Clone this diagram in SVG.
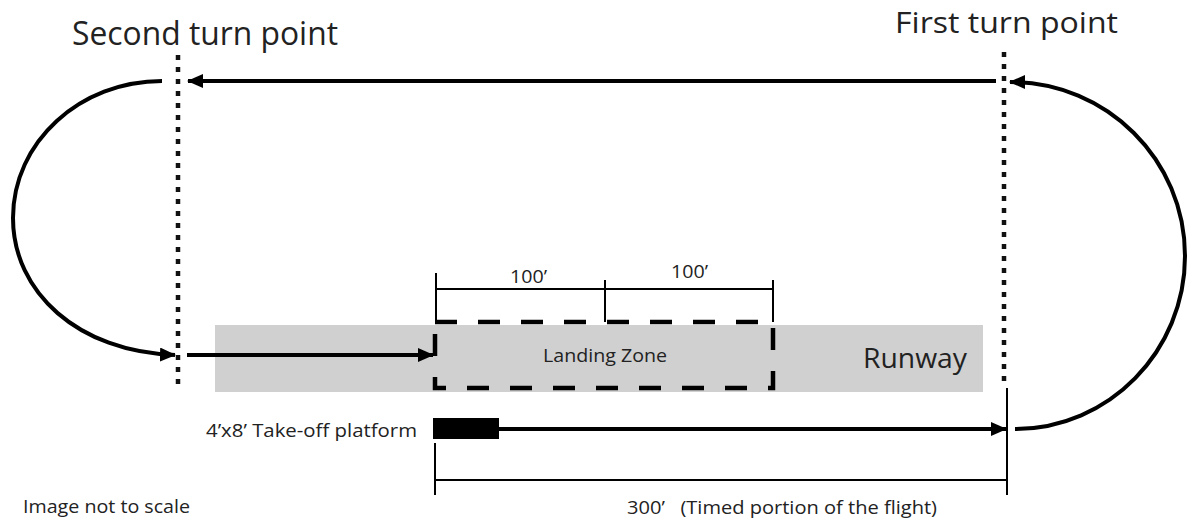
<svg xmlns="http://www.w3.org/2000/svg" width="1190" height="519" viewBox="0 0 1190 519">
<style>
.t{font-family:"Open Sans","Noto Sans",sans-serif;fill:#222}
.ln{stroke:#000;stroke-width:4;fill:none}
.thin{stroke:#000;stroke-width:2;fill:none}
.dot{stroke:#111;stroke-width:4.5;stroke-dasharray:5 7;fill:none}
</style>
<defs>
<marker id="ah" markerWidth="16" markerHeight="14" refX="15" refY="7" orient="auto" markerUnits="userSpaceOnUse">
<path d="M0,0 L16,7 L0,14 Z" fill="#000"/>
</marker>
</defs>
<rect width="1190" height="519" fill="#fff"/>
<g id="runway">
<rect x="215" y="325" width="768" height="67" fill="#d0d0d0"/>
<text class="t" x="863" y="368" font-size="27" textLength="104" lengthAdjust="spacingAndGlyphs">Runway</text>
</g>
<g id="landing-zone">
<rect x="435" y="322" width="338" height="66" fill="none" stroke="#000" stroke-width="4.5" stroke-dasharray="22 21"/>
<text class="t" x="543" y="362" font-size="18.5" textLength="124" lengthAdjust="spacingAndGlyphs">Landing Zone</text>
</g>
<g id="second-turn">
<text class="t" x="72" y="45" font-size="32" textLength="266" lengthAdjust="spacingAndGlyphs">Second turn point</text>
<line class="dot" x1="178" y1="55" x2="178" y2="388"/>
</g>
<g id="first-turn">
<text class="t" x="895" y="33" font-size="28.5" textLength="223" lengthAdjust="spacingAndGlyphs">First turn point</text>
<line class="dot" x1="1004" y1="52" x2="1004" y2="388"/>
</g>
<g id="platform">
<rect x="433" y="418" width="66" height="21" fill="#000"/>
<text class="t" x="206" y="437" font-size="18.5" textLength="211" lengthAdjust="spacingAndGlyphs">4’x8’ Take-off platform</text>
</g>
<g id="dimensions">
<line class="thin" x1="436" y1="273" x2="436" y2="322"/>
<line class="thin" x1="436" y1="289" x2="773" y2="289"/>
<line class="thin" x1="605" y1="280" x2="605" y2="322"/>
<line class="thin" x1="773" y1="280" x2="773" y2="322"/>
<text class="t" x="510" y="283" font-size="19" textLength="37" lengthAdjust="spacingAndGlyphs">100’</text>
<text class="t" x="671" y="278" font-size="19" textLength="37" lengthAdjust="spacingAndGlyphs">100’</text>
<line class="thin" x1="435" y1="443" x2="435" y2="495"/>
<line class="thin" x1="435" y1="480" x2="1007" y2="480"/>
<line class="thin" x1="1007" y1="388" x2="1007" y2="495"/>
<text class="t" x="627" y="514" font-size="18.5" textLength="310" lengthAdjust="spacingAndGlyphs" xml:space="preserve">300’   (Timed portion of the flight)</text>
<text class="t" x="23" y="513" font-size="18.5" textLength="167" lengthAdjust="spacingAndGlyphs">Image not to scale</text>
</g>
<g id="connectors">
<line class="ln" x1="996" y1="81" x2="188" y2="81" marker-end="url(#ah)"/>
<path class="ln" d="M162,81 C80,81 13,142 13,218 C13,292 78,352 175,355" marker-end="url(#ah)"/>
<line class="ln" x1="187" y1="355" x2="433" y2="355" marker-end="url(#ah)"/>
<line class="ln" x1="499" y1="429" x2="1006" y2="429" marker-end="url(#ah)"/>
<path class="ln" d="M1015,429 C1109,429 1185,351 1185,256 C1185,160 1107,82 1010,82" marker-end="url(#ah)"/>
</g>
</svg>
